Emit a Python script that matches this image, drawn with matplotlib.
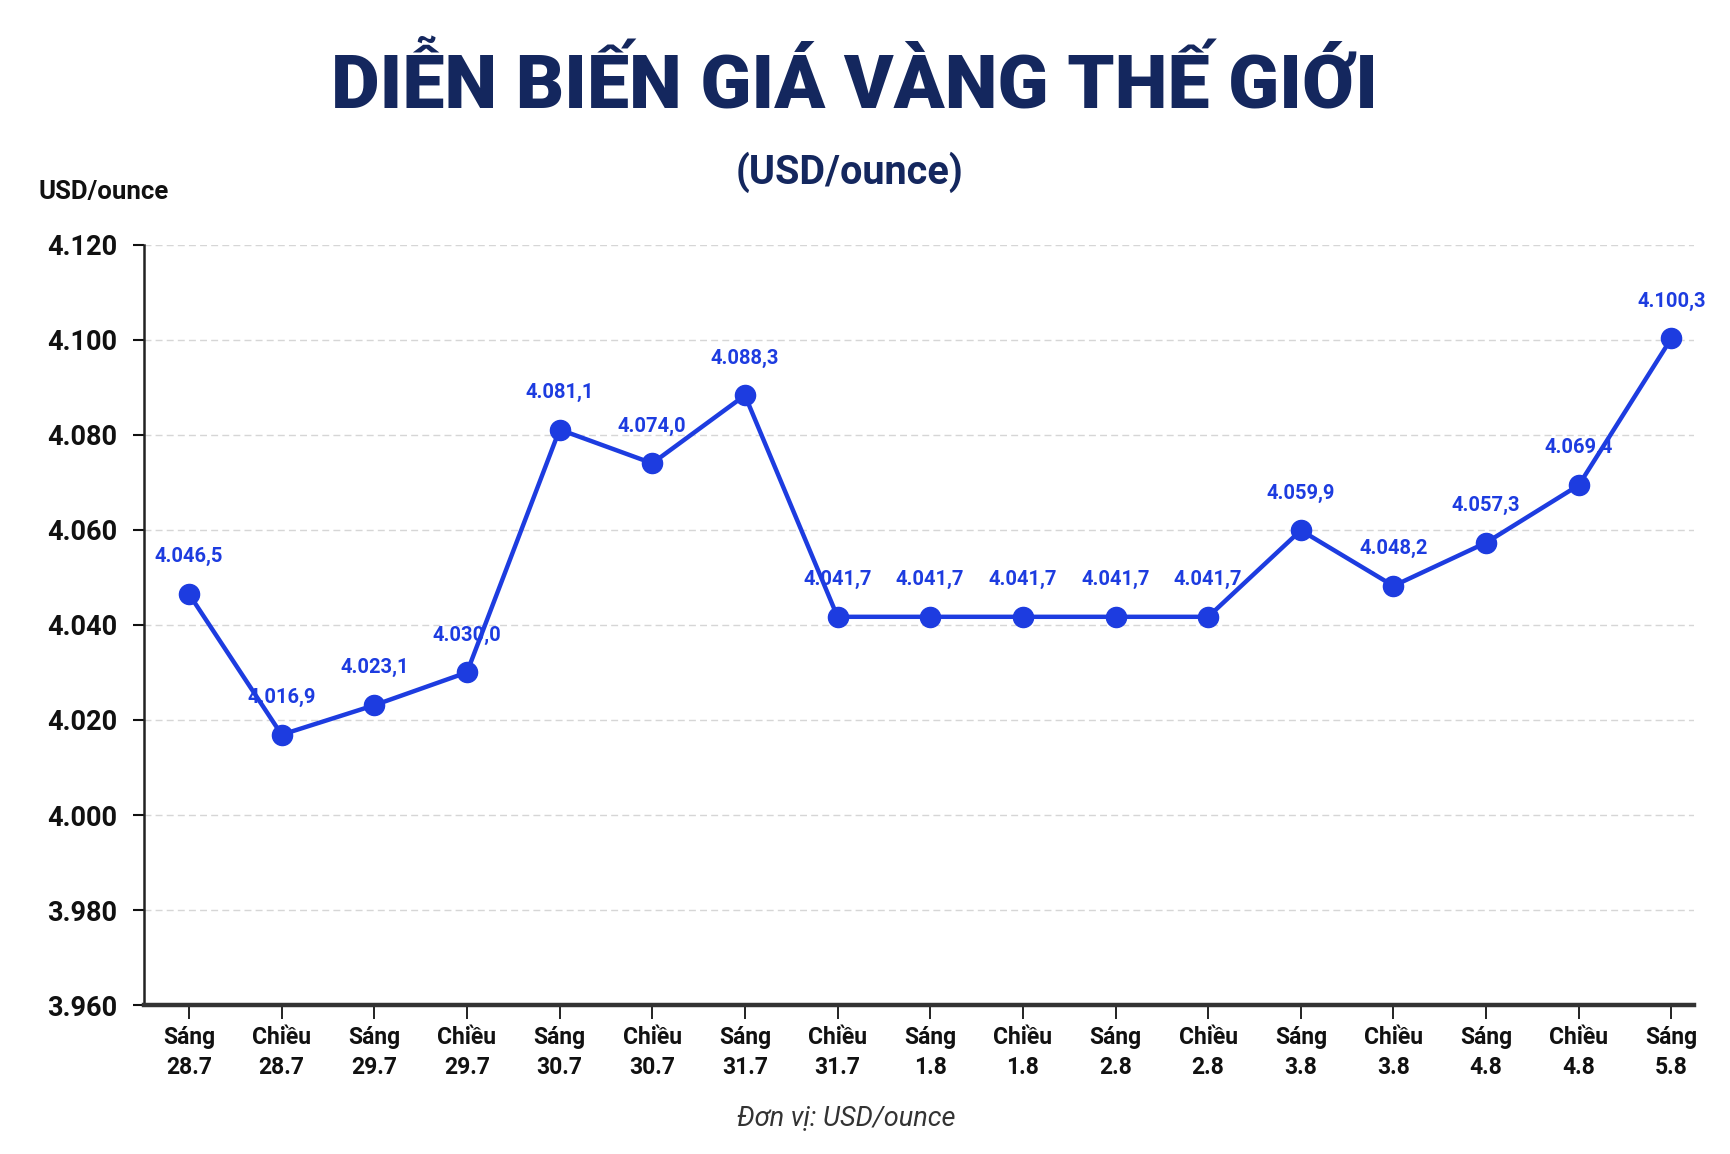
import matplotlib
matplotlib.use("Agg")
import matplotlib.pyplot as plt
from matplotlib.ticker import FuncFormatter, MultipleLocator

sessions = ["Sáng", "Chiều", "Sáng", "Chiều", "Sáng", "Chiều", "Sáng", "Chiều",
            "Sáng", "Chiều", "Sáng", "Chiều", "Sáng", "Chiều", "Sáng", "Chiều", "Sáng"]
days = ["28.7", "28.7", "29.7", "29.7", "30.7", "30.7", "31.7", "31.7",
        "1.8", "1.8", "2.8", "2.8", "3.8", "3.8", "4.8", "4.8", "5.8"]
prices = [4046.5, 4016.9, 4023.1, 4030.0, 4081.1, 4074.0, 4088.3, 4041.7,
          4041.7, 4041.7, 4041.7, 4041.7, 4059.9, 4048.2, 4057.3, 4069.4, 4100.3]

NAVY = "#14275e"
BLUE = "#1d3ce0"

plt.rcParams['font.family'] = ['Roboto', 'DejaVu Sans']


def vn_int(v):
    return f"{v:,.0f}".replace(",", ".")


def vn_dec(v):
    s = f"{v:,.1f}"
    return s.replace(",", "X").replace(".", ",").replace("X", ".")


fig = plt.figure(figsize=(17.3, 11.54), dpi=100)
fig.patch.set_facecolor("white")
ax = fig.add_axes([0.083, 0.129, 0.896, 0.659])

xs = list(range(len(prices)))
ax.plot(xs, prices, color=BLUE, lw=3.2, marker="o", markersize=14.5,
        markerfacecolor=BLUE, markeredgecolor=BLUE, zorder=3)

for x, v in zip(xs, prices):
    ax.annotate(vn_dec(v), (x, v), xytext=(0, 20), textcoords="offset points",
                ha="center", va="bottom", color=BLUE, fontsize=14.5,
                fontweight="bold", zorder=4)

ax.set_xlim(-0.49, len(prices) - 1 + 0.24)
ax.set_ylim(3960, 4120)
ax.yaxis.set_major_locator(MultipleLocator(20))
ax.yaxis.set_major_formatter(FuncFormatter(lambda v, p: vn_int(v)))
ax.set_xticks(xs)
ax.set_xticklabels([f"{s}\n{d}" for s, d in zip(sessions, days)],
                   fontsize=16.5, fontweight="bold", linespacing=1.4)
for lab in ax.get_yticklabels():
    lab.set_fontsize(19.5)
    lab.set_fontweight("bold")

ax.grid(axis="y", color="#d6d6d6", linestyle=(0, (5, 3)), lw=1.0)
ax.set_axisbelow(True)
for side in ["top", "right"]:
    ax.spines[side].set_visible(False)
ax.spines["left"].set_linewidth(1.8)
ax.spines["left"].set_color("#222222")
ax.spines["bottom"].set_linewidth(3.2)
ax.spines["bottom"].set_color("#333333")
ax.tick_params(axis="y", length=8, width=1.5, pad=11, colors="#111111")
ax.tick_params(axis="x", length=10, width=1.3, pad=5, colors="#111111")

fig.text(0.494, 0.925, "DIỄN BIẾN GIÁ VÀNG THẾ GIỚI", ha="center", va="center",
         fontsize=54, fontweight="heavy", color=NAVY)
fig.text(0.491, 0.851, "(USD/ounce)", ha="center", va="center",
         fontsize=28.5, fontweight="bold", color=NAVY)
fig.text(0.022, 0.834, "USD/ounce", ha="left", va="center",
         fontsize=18.5, fontweight="bold", color="#111111")
fig.text(0.489, 0.031, "Đơn vị: USD/ounce", ha="center", va="center",
         fontsize=19.5, style="italic", color="#333333")

fig.savefig("out.png", dpi=100, facecolor="white")
